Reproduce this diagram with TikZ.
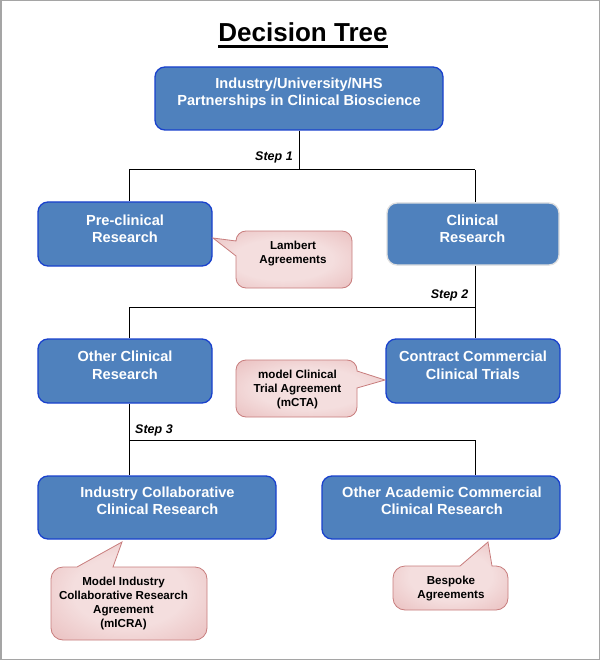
\documentclass[tikz,border=0pt]{standalone}
\usepackage{fontspec}
\setmainfont{Liberation Sans}
\usetikzlibrary{calc}
\definecolor{boxfill}{RGB}{79,129,189}
\definecolor{boxline}{RGB}{25,65,205}
\definecolor{pinkL}{RGB}{244,222,222}
\definecolor{pinkM}{RGB}{228,174,174}
\definecolor{pinkD}{RGB}{208,128,128}
\definecolor{pinkline}{RGB}{200,125,125}
\definecolor{framegray}{RGB}{165,165,165}
\pgfdeclareradialshading{calloutshade}{\pgfpoint{0bp}{0bp}}{color(0bp)=(pinkL); color(18bp)=(pinkL); color(46bp)=(pinkM); color(72bp)=(pinkD)}
\tikzset{
  bluebox/.style={draw=boxline, line width=1.3pt, fill=boxfill, rounded corners=10pt, inner sep=0pt},
  boxtext/.style={text=white, font=\fontsize{14.6}{17.5}\selectfont\bfseries, align=center, inner sep=0pt},
  calltext/.style={text=black, font=\fontsize{11.6}{14}\selectfont\bfseries, align=center, inner sep=0pt},
  steplabel/.style={font=\fontsize{12.5}{15}\selectfont\bfseries\itshape, inner sep=0pt, anchor=base},
  conn/.style={draw=black, line width=1pt},
  callout/.style={draw=pinkline, line width=0.8pt, shade, shading=calloutshade},
}
\begin{document}
\begin{tikzpicture}[x=1pt,y=-1pt]
\useasboundingbox (0,0) rectangle (600,660);
\fill[white] (0,0) rectangle (600,660);
\draw[framegray, line width=1.5pt] (0.75,0.75) rectangle (599.25,659.25);

% title
\node[inner sep=0pt, anchor=base, font=\fontsize{26}{30}\selectfont\bfseries] (title) at (303,42) {Decision Tree};
\draw[line width=3pt] ([yshift=-4.5pt]title.base west) -- ([yshift=-4.5pt]title.base east);

% boxes
\node[bluebox, minimum width=288pt, minimum height=63pt] (top) at (299,98.5) {};
\node[boxtext] (toptxt) at (299,93.4) {\strut Industry/University/NHS\\Partnerships in Clinical Bioscience\strut};

\node[bluebox, minimum width=174pt, minimum height=64pt] (pre) at (125,234) {};
\node[boxtext] (pretxt) at (125,230.3) {\strut Pre-clinical\\Research\strut};

\node[bluebox, draw=gray!25, minimum width=172pt, minimum height=62pt] (clin) at (473,234) {};
\node[boxtext] (clintxt) at (472.5,230.3) {\strut Clinical\\Research\strut};

\node[bluebox, minimum width=174pt, minimum height=64pt] (oth) at (125,371) {};
\node[boxtext] (othtxt) at (125,366.8) {\strut Other Clinical\\Research\strut};

\node[bluebox, minimum width=174pt, minimum height=64pt] (con) at (473,371) {};
\node[boxtext] (contxt) at (473,366.8) {\strut Contract Commercial\\Clinical Trials\strut};

\node[bluebox, minimum width=238pt, minimum height=63pt] (ind) at (157,507.5) {};
\node[boxtext] (indtxt) at (157.5,502.5) {\strut Industry Collaborative\\Clinical Research\strut};

\node[bluebox, minimum width=238pt, minimum height=63pt] (acad) at (441,507.5) {};
\node[boxtext] (acadtxt) at (442,502.5) {\strut Other Academic Commercial\\Clinical Research\strut};

% connectors
\coordinate (s1L) at (129,170);
\coordinate (s1R) at (475,170);
\coordinate (s1M) at (299,170);
\draw[conn] (top.south) -- (s1M);
\draw[conn] (s1L) -- (s1R);
\draw[conn] (s1L) -- (s1L |- pre.north);
\draw[conn] (s1R) -- (s1R |- clin.north);

\coordinate (s2L) at (129,307);
\coordinate (s2R) at (475,307);
\draw[conn] (s2R |- clin.south) -- (s2R) -- (s2L) -- (s2L |- oth.north);
\draw[conn] (s2R) -- (s2R |- con.north);

\coordinate (s3L) at (129,440);
\coordinate (s3R) at (475,440);
\draw[conn] (s3L |- oth.south) -- (s3L) -- (s3R) -- (s3R |- acad.north);
\draw[conn] (s3L) -- (s3L |- ind.north);

% step labels
\node[steplabel] (st1) at (274,161) {Step 1};
\node[steplabel] (st2) at (449.5,298) {Step 2};
\node[steplabel] (st3) at (154,433) {Step 3};

% callouts
\path[callout] (246,231) -- (342,231) arc[start angle=-90,end angle=0,radius=10]
  -- (352,278) arc[start angle=0,end angle=90,radius=10]
  -- (246,288) arc[start angle=90,end angle=180,radius=10]
  -- (236,256) -- (213,238) -- (236,241)
  arc[start angle=180,end angle=270,radius=10] -- cycle;
\node[calltext] (lamb) at (293,253.2) {\strut Lambert\\Agreements\strut};

\path[callout] (246,360) -- (347,360) arc[start angle=-90,end angle=0,radius=10]
  -- (357,371) -- (385,380) -- (357,388)
  -- (357,407) arc[start angle=0,end angle=90,radius=10]
  -- (246,417) arc[start angle=90,end angle=180,radius=10]
  -- (236,370) arc[start angle=180,end angle=270,radius=10] -- cycle;
\node[calltext] (mcta) at (297.5,389.2) {\strut model Clinical\\Trial Agreement\\(mCTA)\strut};

\path[callout] (63,567) -- (77,567) -- (122,542) -- (113,567)
  -- (195,567) arc[start angle=-90,end angle=0,radius=12]
  -- (207,628) arc[start angle=0,end angle=90,radius=12]
  -- (63,640) arc[start angle=90,end angle=180,radius=12]
  -- (51,579) arc[start angle=180,end angle=270,radius=12] -- cycle;
\node[calltext] (micra) at (123.5,603.2) {\strut Model Industry\\Collaborative Research\\Agreement\\(mICRA)\strut};

\path[callout] (405,566) -- (460,566) -- (488,542) -- (492,566)
  -- (496,566) arc[start angle=-90,end angle=0,radius=12]
  -- (508,598) arc[start angle=0,end angle=90,radius=12]
  -- (405,610) arc[start angle=90,end angle=180,radius=12]
  -- (393,578) arc[start angle=180,end angle=270,radius=12] -- cycle;
\node[calltext] (besp) at (451,588.2) {\strut Bespoke\\Agreements\strut};
\end{tikzpicture}
\end{document}
